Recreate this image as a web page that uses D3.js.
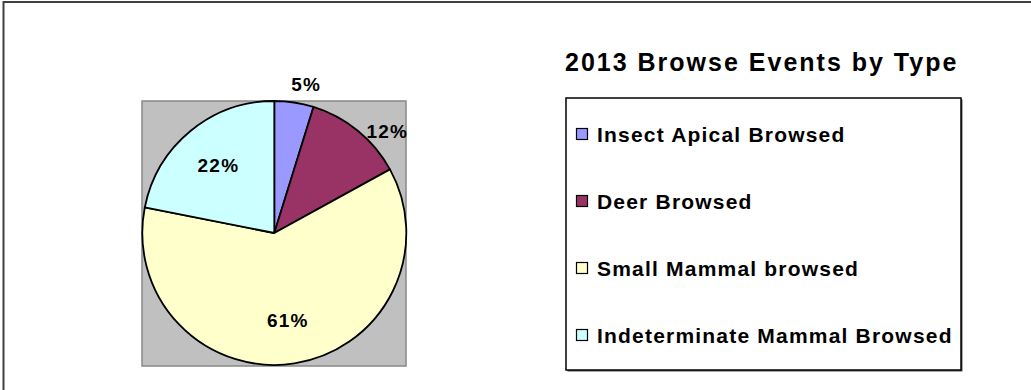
<!DOCTYPE html>
<html lang="en">
<head>
  <meta charset="utf-8">
  <script src="https://d3js.org/d3.v7.min.js"></script>
  <style>
    body {
      margin: 0;
      background: #fff;
      font-family: "Liberation Sans", Arial, sans-serif;
    }

    .label {
      font-weight: bold;
      font-size: 19px;
      letter-spacing: 1.2px;
    }

    .title {
      font-weight: bold;
      font-size: 25px;
      letter-spacing: 2px;
    }

    .legend text {
      font-weight: bold;
      font-size: 21px;
      letter-spacing: 1.2px;
    }
  </style>
</head>
<body>
<div id="chart"></div>
<script>
  // browse events by type (share of total, %)
  var categories = ["Insect Apical Browsed", "Deer Browsed", "Small Mammal browsed", "Indeterminate Mammal Browsed"];
  var values = [4.8, 12.2, 61.1, 21.9];
  var colors = ["#9999FF", "#993366", "#FFFFCC", "#CCFFFF"];
  var title = "2013 Browse Events by Type";

  var width = 1031, height = 390;

  var svg = d3.select("#chart").append("svg")
          .attr("width", width)
          .attr("height", height);

  // outer chart border (right and bottom run off the picture)
  svg.append("path")
          .attr("d", "M3.5," + height + "V2H" + width)
          .attr("fill", "none")
          .attr("stroke", "#404040")
          .attr("stroke-width", 2);

  var color = d3.scaleOrdinal().domain(categories).range(colors);

  // plot area
  var plot = {x: 142, y: 101, w: 264, h: 265};
  svg.append("rect")
          .attr("x", plot.x)
          .attr("y", plot.y)
          .attr("width", plot.w)
          .attr("height", plot.h)
          .attr("fill", "#C0C0C0")
          .attr("stroke", "#888")
          .attr("stroke-width", 1.5);

  var cx = 274.3, cy = 233, r = 132;

  var pie = d3.pie().sort(null).value(function(d, i) { return values[i]; });
  var arcs = pie(categories);
  var total = d3.sum(values);

  var arc = d3.arc().innerRadius(0).outerRadius(r);

  // small slices get their label outside the pie, toward the end of the slice
  function labelPos(d) {
    var small = (d.value / total) < 0.15;
    var a = small ? d.startAngle + 0.7 * (d.endAngle - d.startAngle) : (d.startAngle + d.endAngle) / 2;
    var rr = small ? 152 : 88;
    return [Math.sin(a) * rr, -Math.cos(a) * rr];
  }

  var g = svg.append("g").attr("transform", "translate(" + cx + "," + cy + ")");

  g.selectAll("path.slice")
          .data(arcs)
          .enter().append("path")
          .attr("class", "slice")
          .attr("d", arc)
          .attr("fill", function(d) { return color(d.data); })
          .attr("stroke", "#000")
          .attr("stroke-width", 1.8)
          .attr("stroke-linejoin", "round");

  g.selectAll("text.label")
          .data(arcs)
          .enter().append("text")
          .attr("class", "label")
          .attr("text-anchor", "middle")
          .attr("dy", "0.36em")
          .attr("transform", function(d) { return "translate(" + labelPos(d) + ")"; })
          .text(function(d) { return Math.round(d.value / total * 100) + "%"; });

  // title
  svg.append("text")
          .attr("class", "title")
          .attr("x", 565)
          .attr("y", 62)
          .attr("dy", "0.36em")
          .text(title);

  // legend
  var legend = svg.append("g").attr("class", "legend");
  var box = {x: 566, y: 98, w: 395, h: 272};

  legend.append("rect")
          .attr("x", box.x + 1.5)
          .attr("y", box.y + 1.5)
          .attr("width", box.w)
          .attr("height", box.h)
          .attr("fill", "#555");

  legend.append("rect")
          .attr("x", box.x)
          .attr("y", box.y)
          .attr("width", box.w)
          .attr("height", box.h)
          .attr("fill", "#fff")
          .attr("stroke", "#000")
          .attr("stroke-width", 1.5);

  var ly = d3.scalePoint().domain(categories).range([134, 335]);

  var items = legend.selectAll("g.item")
          .data(categories)
          .enter().append("g")
          .attr("class", "item")
          .attr("transform", function(d) { return "translate(576," + ly(d) + ")"; });

  items.append("rect")
          .attr("x", 0.5)
          .attr("y", -5.5)
          .attr("width", 11)
          .attr("height", 11)
          .attr("fill", function(d) { return color(d); })
          .attr("stroke", "#000")
          .attr("stroke-width", 1.2);

  items.append("text")
          .attr("x", 21)
          .attr("dy", "0.36em")
          .text(function(d) { return d; });
</script>
</body>
</html>
